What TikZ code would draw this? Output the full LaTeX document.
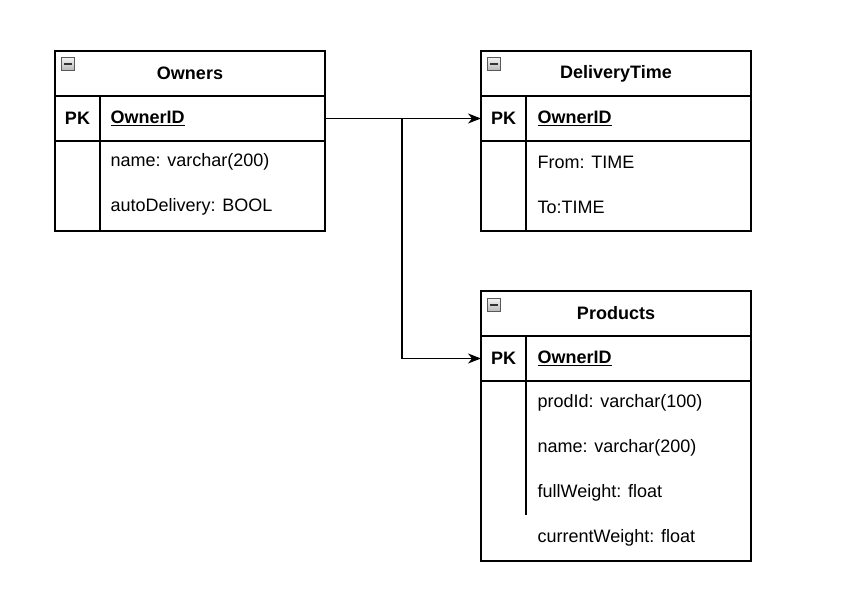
\documentclass[tikz,border=0pt]{standalone}
\usepackage{fontspec}
\setmainfont{Liberation Sans}
\usepackage{tikz}
\usetikzlibrary{arrows.meta,positioning}

\begin{document}
\begin{tikzpicture}[x=1pt,y=-1pt,>={Stealth[length=13pt,width=10pt,inset=4pt]},line width=1.3pt,font=\fontsize{18}{22}\selectfont]
  \tikzstyle{box}=[draw, minimum width=270pt, inner sep=0pt, outer sep=0pt]
  \tikzstyle{head}=[box, minimum height=45pt, font=\fontsize{18}{22}\selectfont\bfseries]
  \tikzstyle{pkrow}=[box, minimum height=45pt]
  \tikzstyle{body}=[box, anchor=north]
  \tikzstyle{icon}=[draw=gray!70!black, line width=0.9pt, top color=gray!10, bottom color=gray!55, minimum width=12.5pt, minimum height=12.5pt, inner sep=0pt]
  \tikzstyle{pk}=[font=\fontsize{18}{22}\selectfont\bfseries]
  \tikzstyle{field}=[anchor=west, inner sep=0pt]
  \useasboundingbox (0,0) rectangle (868,601);

	% Owners
	\node[head, anchor=north west] (owners) at (55,51) {Owners};
	\node[pkrow, below=0pt of owners] (ownersPK) {};
	\node[body, minimum height=90pt, below=0pt of ownersPK] (ownersBody) {};
	\node[icon] (ownersIcon) at (68,64) {\color{black!80}\rule{7.5pt}{1.8pt}};
	\node[pk] (ownersPKt) at (77.5,118) {PK};
	\node[field] (ownersID) at (110,118) {\bfseries\underline{OwnerID}};
	\node[field] (ownersName) at (110,162) {name: varchar(200)};
	\node[field] (ownersAuto) at (110,207) {autoDelivery: BOOL};
	\draw (100,96) -- (100,231);

	% DeliveryTime
	\node[head, anchor=north west] (delivery) at (481,51) {DeliveryTime};
	\node[pkrow, below=0pt of delivery] (deliveryPK) {};
	\node[body, minimum height=90pt, below=0pt of deliveryPK] (deliveryBody) {};
	\node[icon] (deliveryIcon) at (494,64) {\color{black!80}\rule{7.5pt}{1.8pt}};
	\node[pk] (deliveryPKt) at (503.5,118) {PK};
	\node[field] (deliveryID) at (537,118) {\bfseries\underline{OwnerID}};
	\node[field] (deliveryFrom) at (537,162) {From: TIME};
	\node[field] (deliveryTo) at (537,207) {To:TIME};
	\draw (526,96) -- (526,231);

	% Products
	\node[head, anchor=north west] (products) at (481,291) {Products};
	\node[pkrow, below=0pt of products] (productsPK) {};
	\node[body, minimum height=180pt, below=0pt of productsPK] (productsBody) {};
	\node[icon] (productsIcon) at (494,305) {\color{black!80}\rule{7.5pt}{1.8pt}};
	\node[pk] (productsPKt) at (503.5,358) {PK};
	\node[field] (productsID) at (537,358) {\bfseries\underline{OwnerID}};
	\node[field] (productsProd) at (537,403) {prodId: varchar(100)};
	\node[field] (productsName) at (537,448) {name: varchar(200)};
	\node[field] (productsFull) at (537,493) {fullWeight: float};
	\node[field] (productsCur) at (537,538) {currentWeight: float};
	\draw (526,336) -- (526,515);

	% links
	\coordinate (split) at (402,118);
	\draw[->] (ownersPK.east) -- (deliveryPK.west);
	\draw[->] (split) |- (productsPK.west);
\end{tikzpicture}
\end{document}
